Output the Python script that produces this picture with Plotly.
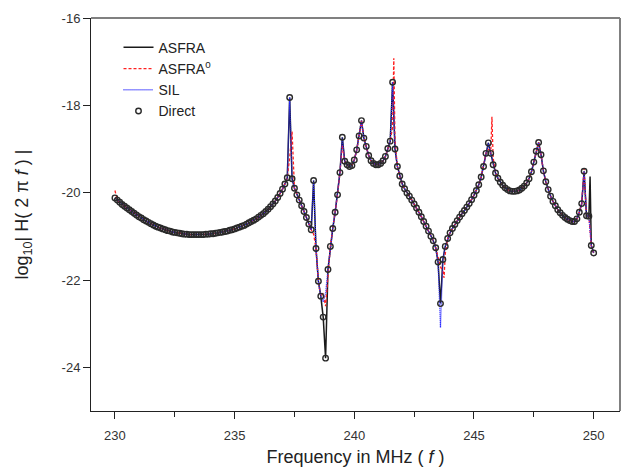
import numpy as np
import plotly.graph_objects as go

# Frequency grid (MHz) of the "Direct" samples
FREQ = [round(230.0 + 0.1 * i, 1) for i in range(201)]

# Direct evaluation, log10|H(2 pi f)|
DIRECT = [
    -20.12, -20.17, -20.22, -20.27, -20.31, -20.35, -20.39, -20.43, -20.47, -20.51,
    -20.55, -20.58, -20.62, -20.65, -20.68, -20.71, -20.74, -20.77, -20.79, -20.81,
    -20.83, -20.85, -20.87, -20.88, -20.90, -20.91, -20.92, -20.93, -20.94, -20.95,
    -20.95, -20.96, -20.96, -20.96, -20.96, -20.96, -20.96, -20.96, -20.95, -20.95,
    -20.94, -20.94, -20.93, -20.92, -20.91, -20.90, -20.89, -20.88, -20.86, -20.85,
    -20.83, -20.81, -20.79, -20.77, -20.75, -20.72, -20.69, -20.66, -20.63, -20.60,
    -20.56, -20.52, -20.48, -20.43, -20.38, -20.32, -20.26, -20.19, -20.11, -20.02,
    -19.92, -19.80, -19.66, -17.82, -19.68, -19.90, -20.05, -20.17, -20.30, -20.43,
    -20.57, -20.72, -20.85, -19.72, -21.28, -22.03, -22.37, -22.85, -23.79, -21.76,
    -21.23, -20.82, -20.45, -20.05, -19.54, -18.73, -19.28, -19.36, -19.40, -19.38,
    -19.25, -19.02, -18.70, -18.35, -18.75, -18.94, -19.15, -19.27, -19.33, -19.36,
    -19.36, -19.33, -19.27, -19.17, -18.99, -18.82, -17.47, -19.00, -19.40, -19.62,
    -19.80, -19.91, -20.01, -20.08, -20.17, -20.26, -20.35, -20.45, -20.55, -20.66,
    -20.77, -20.88, -21.00, -21.10, -21.26, -21.59, -22.54, -21.53, -21.23, -21.05,
    -20.92, -20.82, -20.73, -20.64, -20.56, -20.48, -20.41, -20.33, -20.25, -20.16,
    -20.06, -19.95, -19.82, -19.64, -19.40, -19.10, -18.86, -19.10, -19.36, -19.55,
    -19.67, -19.76, -19.83, -19.89, -19.93, -19.96, -19.97, -19.97, -19.96, -19.94,
    -19.90, -19.85, -19.78, -19.68, -19.52, -19.30, -19.05, -18.85, -19.13, -19.50,
    -19.75, -19.93, -20.08, -20.20, -20.30, -20.39, -20.46, -20.52, -20.57, -20.61,
    -20.64, -20.66, -20.66, -20.60, -20.45, -20.25, -19.51, -20.53, -20.54, -21.21,
    -21.38,
]

# Points where each approximation departs from the direct values
ASFRA_F = [249.85]
ASFRA_V = [-19.63]

ASFRA0_F = [230.0, 237.3, 237.4, 238.3, 238.7, 238.8, 238.9, 239.5,
            241.6, 241.65, 241.7, 243.5, 243.6, 243.7, 243.75, 243.8,
            245.6, 245.75, 245.8, 249.6]
ASFRA0_V = [-19.95, -19.20, -18.60, -20.95, -22.30, -22.60, -21.90, -18.90,
            -18.50, -16.92, -18.80, -21.45, -21.70, -21.80, -21.95, -21.40,
            -19.00, -18.26, -19.20, -19.45]

SIL_F = [238.7, 238.8, 243.6]
SIL_V = [-22.50, -22.30, -23.09]

X_TICKS = [230, 235, 240, 245, 250]
Y_TICKS = [-16, -18, -20, -22, -24]


def merged(fx, fv):
    d = dict(zip(FREQ, DIRECT))
    d.update(dict(zip(fx, fv)))
    ks = sorted(d)
    return ks, [d[k] for k in ks]


ax, av = merged(ASFRA_F, ASFRA_V)
rx, rv = merged(ASFRA0_F, ASFRA0_V)
bx, bv = merged(SIL_F, SIL_V)

fig = go.Figure()
fig.add_trace(go.Scatter(x=ax, y=av, mode="lines", name="ASFRA",
                         line=dict(color="#1a1a1a", width=1.5)))
fig.add_trace(go.Scatter(x=rx, y=rv, mode="lines", name="ASFRA<sup>0</sup>",
                         line=dict(color="#ff2020", width=1.3, dash="3px,2px")))
fig.add_trace(go.Scatter(x=bx, y=bv, mode="lines", name="SIL",
                         line=dict(color="#2a2aff", width=1.3, dash="1px,1px")))
fig.add_trace(go.Scatter(x=FREQ, y=DIRECT, mode="markers", name="Direct",
                         marker=dict(symbol="circle-open", size=5.5, color="#2a2a2a",
                                     line=dict(width=1.4, color="#2a2a2a"))))

font = "Liberation Sans, Arial, sans-serif"
fig.update_layout(
    width=628, height=470,
    margin=dict(l=91, r=8, t=18, b=59),
    paper_bgcolor="white", plot_bgcolor="white",
    font=dict(family=font, size=13, color="#222222"),
    showlegend=True,
    legend=dict(x=0.052, y=0.965, xanchor="left", yanchor="top",
                bgcolor="rgba(0,0,0,0)", font=dict(size=14, color="#222222"),
                tracegroupgap=0, itemwidth=30),
    xaxis=dict(range=[229.0, 251.1], tickvals=X_TICKS, ticktext=[str(v) for v in X_TICKS],
               ticks="outside", ticklen=7, tickwidth=1, tickcolor="#222222",
               ticklabelstandoff=5,
               showline=True, linecolor="#222222", linewidth=1, showgrid=False,
               zeroline=False, tickfont=dict(size=13, color="#333333"),
               minor=dict(tickvals=[232.5, 237.5, 242.5, 247.5], ticks="outside",
                          ticklen=5, tickcolor="#222222"),
               title=dict(text="Frequency in MHz ( <i>f</i> )", font=dict(size=18, color="#222222"),
                          standoff=8)),
    yaxis=dict(range=[-25, -16], tickvals=Y_TICKS, ticktext=[str(v) for v in Y_TICKS],
               ticks="outside", ticklen=7, tickwidth=1, tickcolor="#222222",
               showline=True, linecolor="#222222", linewidth=1, showgrid=False,
               zeroline=False, tickfont=dict(size=13, color="#333333"),
               title=dict(text="log<sub>10</sub>| H( 2 π <i>f</i> ) |",
                          font=dict(size=18, color="#222222"), standoff=28)),
    shapes=[
        dict(type="line", xref="paper", yref="paper", x0=0, x1=1, y0=1, y1=1,
             line=dict(color="#808080", width=2)),
        dict(type="line", xref="paper", yref="paper", x0=1, x1=1, y0=0, y1=1,
             line=dict(color="#808080", width=2)),
    ],
)

fig.write_html("out.html")
